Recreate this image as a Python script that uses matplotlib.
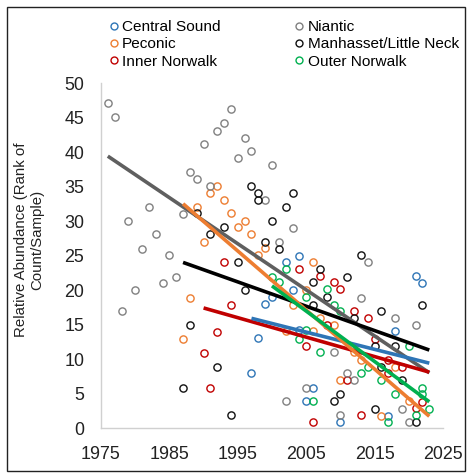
import matplotlib
matplotlib.use("Agg")
import matplotlib.pyplot as plt
from matplotlib.lines import Line2D
from matplotlib.patches import Rectangle

plt.rcParams['font.family'] = ['Liberation Sans', 'DejaVu Sans']

# ---- data (year, relative abundance rank) ----
central_x = [1998, 1997, 1999, 2000, 2004, 2002, 2003, 2004, 2006, 2005, 2010, 2017, 2018, 2021, 2022]
central_y = [13, 8, 18, 19, 25, 24, 20, 14.2, 5.8, 3.9, 0.9, 1.8, 14, 22, 21]

peconic_x = [1991, 1992, 1993, 1994, 1995, 1996, 1997, 1989, 1990, 1999, 1998, 1988, 1987,
             2006, 2007, 2009, 2003, 2006, 2002, 2012, 2013, 2018, 2010, 2020, 2016, 2005]
peconic_y = [34, 35.1, 33.1, 31.1, 29.1, 30, 28.1, 32.1, 27, 26.1, 25.1, 18.9, 12.9,
             24.1, 15.9, 14.9, 17.8, 14, 14, 11, 9.9, 8.9, 6.9, 3.9, 1.8, 20]

niantic_x = [1976, 1977, 1994, 1993, 1992, 1990, 1996, 1997, 1995, 2000, 1988, 1989, 1991,
             1999, 1987, 1982, 1979, 1983, 1981, 1985, 1986, 1984, 1980, 1978, 2003, 2001,
             2014, 2013, 2018, 2021, 2009, 2011, 2012, 2005, 2002, 2019, 2010, 2020]
niantic_y = [47.1, 45.1, 46.2, 44.2, 43.1, 41.2, 42.1, 40.1, 39.1, 38.1, 37.1, 36.1, 35.1,
             33.1, 31, 32.1, 30, 28.1, 26, 25.1, 21.9, 21, 20, 17, 29, 27,
             24.1, 18.9, 16, 14.9, 11, 8, 6.9, 5.8, 3.9, 2.8, 1.9, 0.9]

manhasset_x = [1997, 1998, 1998, 2000, 1989, 1993, 1991, 1999, 1995, 1996, 1988, 1992, 1987,
               1994, 2003, 2002, 2001, 2013, 2007, 2011, 2006, 2008, 2006, 2016, 2022, 2012,
               2015, 2018, 2016, 2019, 2009, 2010, 2015, 2021]
manhasset_y = [35.1, 34.1, 33, 30, 31.1, 29.1, 28.1, 27, 24, 20, 14.9, 8.8, 5.8,
               1.9, 34, 32.1, 26, 25.1, 23, 21.9, 21.1, 19, 17.9, 17, 17.9, 16,
               11.9, 11.9, 8.9, 6.9, 3.9, 4.9, 2.8, 0.9]

inner_x = [1993, 1994, 1992, 1990, 1991, 2004, 2007, 2009, 2010, 2012, 2014, 2008, 2005,
           2015, 2017, 2019, 2017, 2011, 2021, 2022, 2013, 2006]
inner_y = [24, 17.9, 13.9, 10.9, 5.8, 23, 22.1, 21.1, 20.1, 17, 16, 14.9, 11.9,
           12.9, 9.9, 8.9, 8, 6.9, 2.9, 3.8, 1.9, 0.9]

outer_x = [2000, 2001, 2002, 2008, 2005, 2009, 2010, 2004, 2007, 2020, 2014, 2013, 2016,
           2006, 2018, 2022, 2022, 2023, 2017, 2021, 2005]
outer_y = [21.9, 21.1, 23, 20.1, 19, 17.9, 17, 12.9, 11, 11.9, 8.9, 8, 6.9,
           3.9, 4.9, 5.8, 4.9, 2.8, 0.9, 1.9, 14.2]

# linear trend endpoints: (start year, end year), (start value, end value)
trend_niantic = ([1976, 2023], [39.4, 8.0])
trend_peconic = ([1987, 2023], [32.5, 1.7])
trend_manhasset = ([1987, 2023], [24.0, 11.3])
trend_inner = ([1990, 2023], [17.4, 8.1])
trend_central = ([1997, 2023], [15.9, 9.4])
trend_outer = ([2000, 2023], [20.6, 3.8])

x_ticks = [1975, 1985, 1995, 2005, 2015, 2025]
y_ticks = [0, 5, 10, 15, 20, 25, 30, 35, 40, 45, 50]

C_BLUE = '#2e75b6'
C_ORANGE = '#ed7d31'
C_GRAY = '#808080'
C_GRAYLINE = '#5f5f5f'
C_BLACK = '#111111'
C_RED = '#c00000'
C_GREEN = '#00b050'

series = [
    ('Central Sound', central_x, central_y, C_BLUE),
    ('Peconic', peconic_x, peconic_y, C_ORANGE),
    ('Inner Norwalk', inner_x, inner_y, C_RED),
    ('Niantic', niantic_x, niantic_y, C_GRAY),
    ('Manhasset/Little Neck', manhasset_x, manhasset_y, C_BLACK),
    ('Outer Norwalk', outer_x, outer_y, C_GREEN),
]

fig = plt.figure(figsize=(4.75, 4.73), dpi=100)
ax = fig.add_axes([0.2126, 0.0951, 0.72, 0.7294])

for name, xs, ys, c in series:
    ax.plot(xs, ys, linestyle='none', marker='o', ms=5.2, mfc='none', mec=c, mew=1.0, zorder=2)

trends = [
    (trend_niantic, C_GRAYLINE),
    (trend_manhasset, '#000000'),
    (trend_inner, C_RED),
    (trend_central, C_BLUE),
    (trend_peconic, C_ORANGE),
    (trend_outer, C_GREEN),
]
for (tx, ty), c in trends:
    ax.plot(tx, ty, color=c, lw=2.6, solid_capstyle='butt', zorder=3)

ax.set_xlim(1975, 2025)
ax.set_ylim(0, 50)
ax.set_xticks(x_ticks)
ax.set_yticks(y_ticks)
ax.tick_params(axis='both', length=0, labelsize=12.9, colors='#222222')
ax.tick_params(axis='x', pad=13)
ax.tick_params(axis='y', pad=12)
for s in ['top', 'right']:
    ax.spines[s].set_visible(False)
for s in ['left', 'bottom']:
    ax.spines[s].set_color('#d0d0d0')
    ax.spines[s].set_linewidth(1.0)

fig.text(29 / 475, 1 - 240 / 473, 'Relative Abundance (Rank of\nCount/Sample)',
         rotation=90, ha='center', va='center', fontsize=10.8, color='#222222',
         multialignment='center', linespacing=1.2)

handles = [Line2D([], [], linestyle='none', marker='o', ms=5, mfc='none', mec=c, mew=1.0)
           for _, _, _, c in series]
labels = [n for n, _, _, _ in series]
fig.legend(handles, labels, ncol=2, loc='upper left', bbox_to_anchor=(106 / 475, 1 - 20 / 473),
           frameon=False, fontsize=11.1, handletextpad=0.05, handlelength=1.0,
           columnspacing=4.6, labelspacing=0.22, borderpad=0, borderaxespad=0)

fig.patches.append(Rectangle((7 / 475, 1 - 471 / 473), 458 / 475, 464 / 473,
                             transform=fig.transFigure, fill=False, edgecolor='#222222',
                             linewidth=1.0))

fig.savefig('out.png', dpi=100)
